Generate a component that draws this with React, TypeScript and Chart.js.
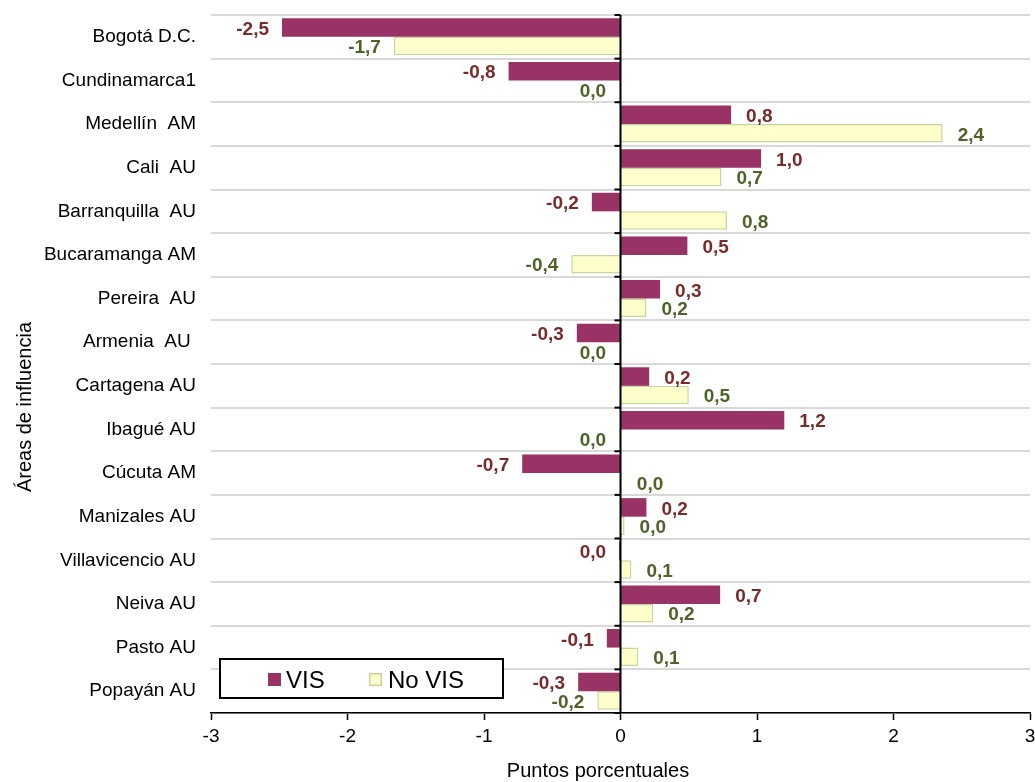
import React, { useEffect, useRef } from "react";
import { Chart, registerables } from "chart.js";

Chart.register(...registerables);

const categories = [
  "Bogotá D.C.",
  "Cundinamarca1",
  "Medellín  AM",
  "Cali  AU",
  "Barranquilla  AU",
  "Bucaramanga AM",
  "Pereira  AU",
  "Armenia  AU ",
  "Cartagena AU",
  "Ibagué AU",
  "Cúcuta AM",
  "Manizales AU",
  "Villavicencio AU",
  "Neiva AU",
  "Pasto AU",
  "Popayán AU",
];

const visValues = [-2.48, -0.82, 0.81, 1.03, -0.21, 0.49, 0.29, -0.32, 0.21, 1.2, -0.72, 0.19, -0.01, 0.73, -0.1, -0.31];
const noVisValues = [-1.66, -0.01, 2.36, 0.74, 0.78, -0.36, 0.19, -0.01, 0.5, -0.01, 0.01, 0.03, 0.08, 0.24, 0.13, -0.17];

const xTicks = [-3, -2, -1, 0, 1, 2, 3];
const seriesNames = ["VIS", "No VIS"];
const xTitle = "Puntos porcentuales";
const yTitle = "Áreas de influencia";

const FONT = "Arial, 'Liberation Sans', sans-serif";
const VIS_COLOR = "#993366";
const NOVIS_FILL = "#FFFFCC";
const NOVIS_BORDER = "#C3D69B";
const LABEL_COLORS = ["#772b2b", "#4F6228"];

function fmt(v: number): string {
  let s = v.toFixed(1);
  if (s === "-0.0") s = "0.0";
  return s.replace(".", ",");
}

export default function App() {
  const ref = useRef<HTMLCanvasElement>(null);

  useEffect(() => {
    if (!ref.current) return;

    const overlayPlugin = {
      id: "overlay",
      afterDatasetsDraw(chart: any) {
        const ctx = chart.ctx;
        const xs = chart.scales.x;
        const ys = chart.scales.y;
        const area = chart.chartArea;
        const x0 = xs.getPixelForValue(0);
        ctx.save();
        // zero line
        ctx.strokeStyle = "#000";
        ctx.lineWidth = 2;
        ctx.beginPath();
        ctx.moveTo(x0, area.top);
        ctx.lineTo(x0, area.bottom);
        ctx.stroke();
        // small tick marks at category boundaries
        for (let i = 0; i <= categories.length; i++) {
          const y = ys.getPixelForValue(i - 0.5);
          ctx.beginPath();
          ctx.moveTo(x0 - 6, y);
          ctx.lineTo(x0, y);
          ctx.stroke();
        }
        // data labels
        ctx.font = `bold 19px ${FONT}`;
        ctx.textBaseline = "middle";
        chart.data.datasets.forEach((ds: any, di: number) => {
          const meta = chart.getDatasetMeta(di);
          meta.data.forEach((el: any, i: number) => {
            const v = ds.data[i] as number;
            const s = fmt(v);
            ctx.fillStyle = LABEL_COLORS[di];
            if (v >= 0) {
              ctx.textAlign = "left";
              ctx.fillText(s, el.x + 15, el.y + 2);
            } else {
              ctx.textAlign = "right";
              ctx.fillText(s, el.x - 13, el.y + 2);
            }
          });
        });
        ctx.restore();
      },
      afterDraw(chart: any) {
        const ctx = chart.ctx;
        ctx.save();
        // axis titles
        ctx.fillStyle = "#000";
        ctx.font = `20px ${FONT}`;
        ctx.textAlign = "center";
        ctx.textBaseline = "middle";
        ctx.fillText(xTitle, 598, 771);
        ctx.translate(25, 407);
        ctx.rotate(-Math.PI / 2);
        ctx.fillText(yTitle, 0, 0);
        ctx.restore();

        // legend
        ctx.save();
        ctx.fillStyle = "#fff";
        ctx.fillRect(220, 659, 283, 39);
        ctx.strokeStyle = "#000";
        ctx.lineWidth = 2;
        ctx.strokeRect(220, 659, 283, 39);
        const ds = chart.data.datasets;
        ctx.fillStyle = ds[0].backgroundColor;
        ctx.fillRect(268, 673, 13, 13);
        ctx.fillStyle = ds[1].backgroundColor;
        ctx.fillRect(369, 673, 13, 13);
        ctx.strokeStyle = ds[1].borderColor;
        ctx.lineWidth = 1.5;
        ctx.strokeRect(369.75, 673.75, 11.5, 11.5);
        ctx.fillStyle = "#000";
        ctx.font = `24px ${FONT}`;
        ctx.textAlign = "left";
        ctx.textBaseline = "alphabetic";
        ctx.fillText(ds[0].label, 286, 688);
        ctx.fillText(ds[1].label, 388, 688);
        ctx.restore();
      },
    };

    const chart = new Chart(ref.current, {
      type: "bar",
      data: {
        labels: categories,
        datasets: [
          {
            label: seriesNames[0],
            data: visValues,
            backgroundColor: VIS_COLOR,
            borderWidth: 0,
            categoryPercentage: 0.85,
            barPercentage: 1.0,
          },
          {
            label: seriesNames[1],
            data: noVisValues,
            backgroundColor: NOVIS_FILL,
            borderColor: NOVIS_BORDER,
            borderWidth: 1.5,
            categoryPercentage: 0.85,
            barPercentage: 1.0,
          },
        ],
      },
      options: {
        indexAxis: "y",
        responsive: false,
        animation: false,
        devicePixelRatio: 1,
        layout: { padding: { top: 15, right: 5, left: 0, bottom: 0 } },
        plugins: {
          legend: { display: false },
          tooltip: { enabled: false },
          title: { display: false },
        },
        scales: {
          x: {
            type: "linear",
            position: "bottom",
            min: -3,
            max: 3,
            afterBuildTicks: (s: any) => {
              s.ticks = xTicks.map((v) => ({ value: v }));
            },
            afterFit: (s: any) => {
              s.height = 69;
              s.paddingLeft = 0;
              s.paddingRight = 0;
            },
            grid: {
              drawOnChartArea: false,
              drawTicks: true,
              tickLength: 7,
              tickColor: "#000",
              tickWidth: 1.5,
            },
            border: { display: true, color: "#000", width: 1.5 },
            ticks: {
              padding: 5,
              color: "#000",
              font: { family: FONT, size: 19 },
              maxRotation: 0,
              autoSkip: false,
              callback: (v: any) => String(v),
            },
          },
          y: {
            type: "category",
            offset: true,
            afterFit: (s: any) => {
              s.width = 211;
              s.paddingTop = 0;
              s.paddingBottom = 0;
            },
            grid: {
              offset: true,
              color: "#d9d9d9",
              lineWidth: 2,
              drawTicks: false,
            },
            border: { display: false },
            ticks: {
              padding: 15,
              color: "#000",
              font: { family: FONT, size: 19 },
              autoSkip: false,
            },
          },
        },
      },
      plugins: [overlayPlugin],
    } as any);

    return () => chart.destroy();
  }, []);

  return (
    <canvas
      ref={ref}
      width={1035}
      height={782}
      style={{ position: "absolute", left: 0, top: 0, width: 1035, height: 782 }}
    />
  );
}
